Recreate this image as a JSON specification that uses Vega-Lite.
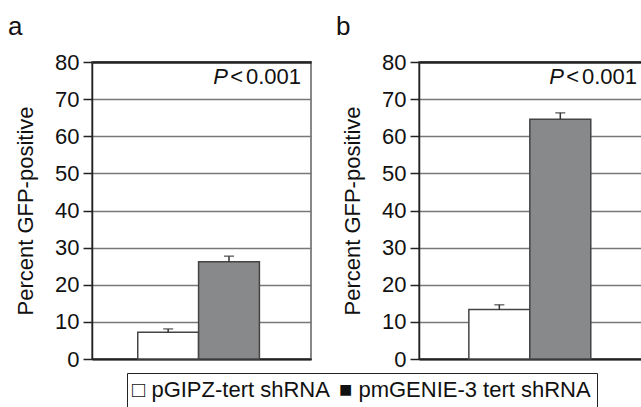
{
  "$schema": "https://vega.github.io/schema/vega-lite/v6.json",
  "padding": {"left": 7, "top": 13, "right": 0, "bottom": 0},
  "config": {
    "font": "Liberation Sans",
    "view": {"stroke": "#888888", "strokeWidth": 2},
    "title": {"fontSize": 26, "fontWeight": "normal", "color": "#111111", "anchor": "start", "frame": "bounds"},
    "axisY": {
      "titleFontSize": 22, "titleFontWeight": "normal", "titleColor": "#111111", "titlePadding": 17.5,
      "labelFontSize": 22, "labelColor": "#111111", "labelPadding": 4, "tickSize": 9, "tickColor": "#222222", "tickWidth": 1.5,
      "domainColor": "#222222", "domainWidth": 1.5, "values": [0, 10, 20, 30, 40, 50, 60, 70, 80], "grid": true,
      "gridColor": {"condition": {"test": "datum.value === 80 || datum.value === 0", "value": "#222222"}, "value": "#777777"},
      "gridWidth": {"condition": {"test": "datum.value === 80", "value": 2.5}, "value": 1.5}
    },
    "axisX": {"labels": false, "ticks": false, "title": null, "domain": true, "domainColor": "#222222", "domainWidth": 2, "grid": false},
    "legend": {
      "orient": "none", "legendX": 35, "legendY": 311, "direction": "horizontal", "title": null,
      "strokeColor": "#222222", "padding": 6, "labelFontSize": 22, "labelColor": "#111111",
      "symbolSize": 0, "symbolStrokeWidth": 0, "symbolOpacity": 0, "labelOffset": -23, "columnPadding": 9, "labelLimit": 400
    }
  },
  "datasets": {
    "bars": [
      {"panel": "a", "construct": "pGIPZ-tert shRNA", "pct": 7.2, "upper": 8.1},
      {"panel": "a", "construct": "pmGENIE-3 tert shRNA", "pct": 26.2, "upper": 27.7},
      {"panel": "b", "construct": "pGIPZ-tert shRNA", "pct": 13.3, "upper": 14.6},
      {"panel": "b", "construct": "pmGENIE-3 tert shRNA", "pct": 64.6, "upper": 66.3}
    ],
    "notes": [
      {"panel": "a", "p": "P", "lt": "<", "num": "0.001"},
      {"panel": "b", "p": "P", "lt": "<", "num": "0.001"}
    ]
  },
  "spacing": 23,
  "resolve": {"scale": {"fill": "shared"}},
  "hconcat": [
    {
      "width": 219, "height": 297,
      "title": {"text": "a", "dx": -6, "offset": 11},
      "layer": [
        {
          "data": {"name": "bars"}, "transform": [{"filter": "datum.panel === 'a'"}],
          "mark": {"type": "bar", "stroke": "#444444", "strokeWidth": 1.5},
          "encoding": {
            "x": {"field": "construct", "type": "nominal", "scale": {"domain": ["pGIPZ-tert shRNA", "pmGENIE-3 tert shRNA"], "paddingInner": 0, "paddingOuter": 0.8, "align": 0.47}},
            "y": {"field": "pct", "type": "quantitative", "scale": {"domain": [0, 80]}, "axis": {"title": "Percent GFP-positive"}},
            "fill": {"field": "construct", "type": "nominal",
              "scale": {"domain": ["pGIPZ-tert shRNA", "pmGENIE-3 tert shRNA"], "range": ["#ffffff", "#88898b"]},
              "legend": {"labelExpr": "(datum.value === 'pGIPZ-tert shRNA' ? '□ ' : '■ ') + datum.label"}
            }
          }
        },
        {
          "data": {"name": "bars"}, "transform": [{"filter": "datum.panel === 'a'"}],
          "mark": {"type": "rule", "color": "#333333", "strokeWidth": 1.5},
          "encoding": {"x": {"field": "construct", "type": "nominal"}, "y": {"field": "pct", "type": "quantitative"}, "y2": {"field": "upper"}}
        },
        {
          "data": {"name": "bars"}, "transform": [{"filter": "datum.panel === 'a'"}],
          "mark": {"type": "tick", "orient": "horizontal", "color": "#333333", "thickness": 1.5, "size": 10},
          "encoding": {"x": {"field": "construct", "type": "nominal"}, "y": {"field": "upper", "type": "quantitative"}}
        },
        {
          "data": {"name": "notes"}, "transform": [{"filter": "datum.panel === 'a'"}],
          "mark": {"type": "text", "align": "right", "baseline": "alphabetic", "fontSize": 22, "dx": -10, "color": "#111111"},
          "encoding": {"x": {"value": "width"}, "y": {"datum": 74}, "text": {"field": "num"}}
        },
        {
          "data": {"name": "notes"}, "transform": [{"filter": "datum.panel === 'a'"}],
          "mark": {"type": "text", "align": "right", "baseline": "alphabetic", "fontSize": 22, "dx": -68, "color": "#111111"},
          "encoding": {"x": {"value": "width"}, "y": {"datum": 74}, "text": {"field": "lt"}}
        },
        {
          "data": {"name": "notes"}, "transform": [{"filter": "datum.panel === 'a'"}],
          "mark": {"type": "text", "align": "right", "baseline": "alphabetic", "fontSize": 22, "fontStyle": "italic", "dx": -83, "color": "#111111"},
          "encoding": {"x": {"value": "width"}, "y": {"datum": 74}, "text": {"field": "p"}}
        }
      ]
    },
    {
      "width": 228, "height": 297,
      "title": {"text": "b", "dx": -5, "offset": 11},
      "layer": [
        {
          "data": {"name": "bars"}, "transform": [{"filter": "datum.panel === 'b'"}],
          "mark": {"type": "bar", "stroke": "#444444", "strokeWidth": 1.5},
          "encoding": {
            "x": {"field": "construct", "type": "nominal", "scale": {"domain": ["pGIPZ-tert shRNA", "pmGENIE-3 tert shRNA"], "paddingInner": 0, "paddingOuter": 0.87, "align": 0.47}},
            "y": {"field": "pct", "type": "quantitative", "scale": {"domain": [0, 80]}, "axis": {"title": "Percent GFP-positive"}},
            "fill": {"field": "construct", "type": "nominal",
              "scale": {"domain": ["pGIPZ-tert shRNA", "pmGENIE-3 tert shRNA"], "range": ["#ffffff", "#88898b"]},
              "legend": {"labelExpr": "(datum.value === 'pGIPZ-tert shRNA' ? '□ ' : '■ ') + datum.label"}
            }
          }
        },
        {
          "data": {"name": "bars"}, "transform": [{"filter": "datum.panel === 'b'"}],
          "mark": {"type": "rule", "color": "#333333", "strokeWidth": 1.5},
          "encoding": {"x": {"field": "construct", "type": "nominal"}, "y": {"field": "pct", "type": "quantitative"}, "y2": {"field": "upper"}}
        },
        {
          "data": {"name": "bars"}, "transform": [{"filter": "datum.panel === 'b'"}],
          "mark": {"type": "tick", "orient": "horizontal", "color": "#333333", "thickness": 1.5, "size": 10},
          "encoding": {"x": {"field": "construct", "type": "nominal"}, "y": {"field": "upper", "type": "quantitative"}}
        },
        {
          "data": {"name": "notes"}, "transform": [{"filter": "datum.panel === 'b'"}],
          "mark": {"type": "text", "align": "right", "baseline": "alphabetic", "fontSize": 22, "dx": -10, "color": "#111111"},
          "encoding": {"x": {"value": "width"}, "y": {"datum": 74}, "text": {"field": "num"}}
        },
        {
          "data": {"name": "notes"}, "transform": [{"filter": "datum.panel === 'b'"}],
          "mark": {"type": "text", "align": "right", "baseline": "alphabetic", "fontSize": 22, "dx": -68, "color": "#111111"},
          "encoding": {"x": {"value": "width"}, "y": {"datum": 74}, "text": {"field": "lt"}}
        },
        {
          "data": {"name": "notes"}, "transform": [{"filter": "datum.panel === 'b'"}],
          "mark": {"type": "text", "align": "right", "baseline": "alphabetic", "fontSize": 22, "fontStyle": "italic", "dx": -83, "color": "#111111"},
          "encoding": {"x": {"value": "width"}, "y": {"datum": 74}, "text": {"field": "p"}}
        }
      ]
    }
  ]
}
